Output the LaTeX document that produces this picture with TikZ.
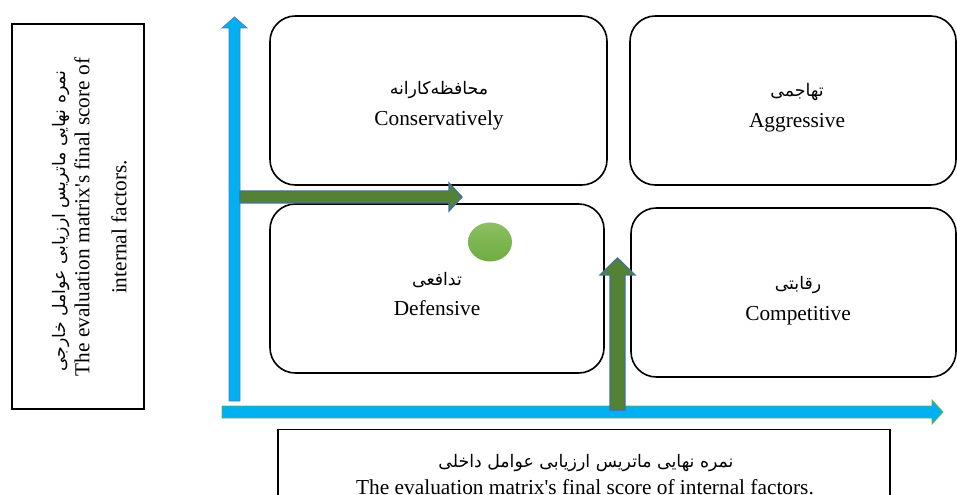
\documentclass[tikz,border=0pt]{standalone}
\usepackage{fontspec}
\setmainfont{Liberation Serif}
\newfontfamily\farsi[Script=Arabic]{DejaVu Sans}
\TeXXeTstate=1
\usetikzlibrary{positioning}

\definecolor{axisblue}{HTML}{00B0F0}
\definecolor{axisedge}{HTML}{4A7EC6}
\definecolor{axisgreen}{HTML}{70AD47}
\definecolor{movegreen}{HTML}{548235}
\definecolor{moveedge}{HTML}{41719C}
\definecolor{dotgreen}{HTML}{6EAC40}
\definecolor{dotlight}{HTML}{8CBF62}

\newcommand{\fa}[1]{{\farsi\fontsize{13}{16}\selectfont\beginR #1\endR}}

\begin{document}
\begin{tikzpicture}[x=0.75pt, y=-0.75pt,
    quad/.style={draw, line width=1.2pt, rounded corners=19pt, minimum height=126.75pt},
    quadtext/.style={align=center, inner sep=0pt, font=\fontsize{16}{23}\selectfont},
    caption/.style={draw, line width=0.8pt},
    label/.style={font=\fontsize{16}{20}\selectfont, inner sep=0pt}]
    \useasboundingbox (0,0) rectangle (957,495);

    % Quadrants of the strategy matrix
    \node (cons) [quad, minimum width=252.75pt] at (438.5,100.5) {};
    \node (aggr) [quad, minimum width=244.5pt] at (793,100.5) {};
    \node (defe) [quad, minimum width=250.5pt] at (437,288.5) {};
    \node (comp) [quad, minimum width=243.75pt] at (793.5,292.5) {};

    \node (cons-t) [quadtext] at (439,106) {\fa{محافظه‌کارانه}\\Conservatively};
    \node (aggr-t) [quadtext] at (797,108) {\fa{تهاجمی}\\Aggressive};
    \node (defe-t) [quadtext] at (437,294) {\fa{تدافعی}\\Defensive};
    \node (comp-t) [quadtext] at (798,301) {\fa{رقابتی}\\Competitive};

    % Axis captions
    \node (efebox) [caption, minimum width=99pt, minimum height=288.75pt] at (78,216.5) {};
    \node (efefa) [label, rotate=90] at (61,221) {\fa{نمره نهایی ماتریس ارزیابی عوامل خارجی}};
    \node (efeen) [label, rotate=90] at (82,217) {The evaluation matrix\textquotesingle s final score of};
    \node (efeen2) [label, rotate=90] at (119,227) {internal factors.};

    \node (ifebox) [caption, anchor=north, minimum width=459pt, minimum height=60pt] at (584,429) {};
    \node (ifefa) [label] at (586,463) {\fa{نمره نهایی ماتریس ارزیابی عوامل داخلی}};
    \node (ifeen) [label] at (585,487) {The evaluation matrix\textquotesingle s final score of internal factors.};

    % Axes (block arrows)
    \filldraw[fill=axisblue, draw=axisedge, line width=0.6pt]
        (229,401) -- (229,28) -- (222,28) -- (234.5,17) -- (247,28) -- (240,28) -- (240,401) -- cycle;
    \filldraw[fill=axisblue, draw=axisgreen, line width=0.6pt]
        (222,406) -- (932,406) -- (932,400) -- (943,412) -- (932,424) -- (932,418) -- (222,418) -- cycle;

    % Position of the organisation
    \filldraw[fill=movegreen, draw=moveedge, line width=1pt]
        (240,191) -- (449,191) -- (449,183) -- (462,197) -- (449,211) -- (449,203) -- (240,203) -- cycle;
    \filldraw[fill=movegreen, draw=moveedge, line width=1pt]
        (610,410) -- (610,275) -- (600,275) -- (617.5,258) -- (635,275) -- (625,275) -- (625,410) -- cycle;
    \shade[top color=dotlight, bottom color=dotgreen] (490,242) ellipse (22 and 19.5);
\end{tikzpicture}
\end{document}
